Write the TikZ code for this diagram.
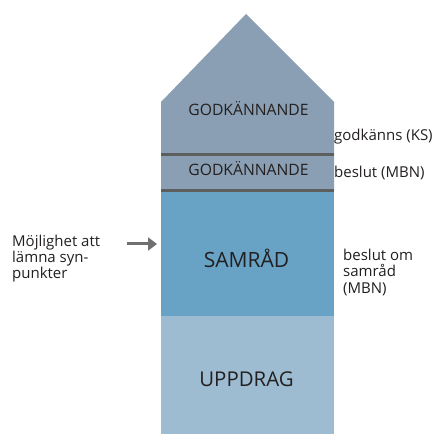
\documentclass[tikz,border=0pt]{standalone}
\usepackage{fontspec}
\setmainfont{Open Sans}
\usetikzlibrary{arrows.meta}
\definecolor{topc}{HTML}{8A9FB3}
\definecolor{midc}{HTML}{68A3C6}
\definecolor{lowc}{HTML}{9DBCD2}
\definecolor{linec}{HTML}{5E5E5E}
\definecolor{txt}{HTML}{231F20}
\definecolor{arrc}{HTML}{707070}
\tikzset{
  sep/.style={draw=linec,line width=3pt},
  inlab/.style={text=txt,inner sep=0pt,anchor=center},
  sidelab/.style={text=txt,inner sep=0pt,font=\fontsize{15}{16.3}\selectfont,align=left},
  arr/.style={draw=arrc,line width=3pt,-{Triangle[length=9pt,width=13pt]}}
}
\begin{document}
\begin{tikzpicture}[x=1pt,y=-1pt]
\useasboundingbox (0,0) rectangle (440,435);
% bands
\fill[topc] (161,191) -- (161,102) -- (246,14) -- (334,102) -- (334,191) -- cycle;
\fill[midc] (161,191) rectangle (334,316);
\fill[lowc] (161,316) rectangle (334,434);
\draw[sep] (161,155) -- (334,155);
\draw[sep] (161,191) -- (334,191);
% inner labels
\node[inlab,font=\fontsize{15.7}{18}\selectfont,anchor=base] (g1) at (248.5,116) {GODKÄNNANDE};
\node[inlab,font=\fontsize{15.7}{18}\selectfont,anchor=base] (g2) at (248.5,176) {GODKÄNNANDE};
\node[inlab,font=\fontsize{21}{24}\selectfont,anchor=base] (samrad) at (246.5,267.5) {SAMRÅD};
\node[inlab,font=\fontsize{20.4}{24}\selectfont,anchor=base] (uppdrag) at (246.5,387) {UPPDRAG};
% right labels
\node[sidelab,anchor=base west] (ks) at (334,141) {godkänns (KS)};
\node[sidelab,anchor=base west] (mbn) at (334,178) {beslut (MBN)};
\node[sidelab,anchor=north west] (sam) at (343,249) {beslut om\\samråd\\(MBN)};
% left label
\node[sidelab,anchor=north west] (moj) at (12,234.5) {Möjlighet att\\lämna syn-\\punkter};
\coordinate (as) at (127,244);
\coordinate (ae) at (157,244);
\draw[arr] (as) -- (ae);
\end{tikzpicture}
\end{document}
